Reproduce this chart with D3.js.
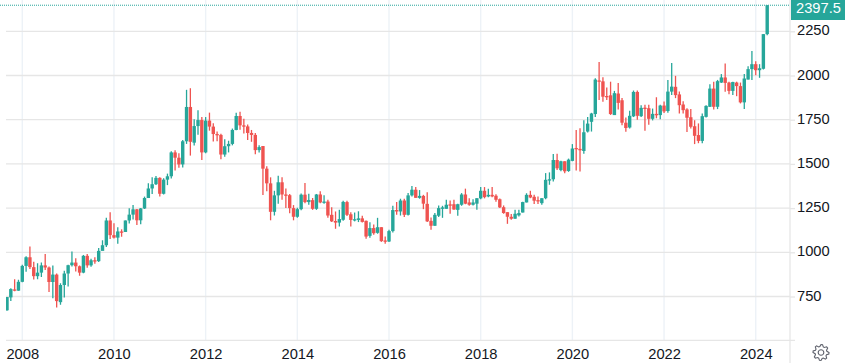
<!DOCTYPE html>
<html>
<head>
<meta charset="utf-8">
<style>
  html, body { margin: 0; padding: 0; background: #fff; overflow: hidden; }
  text { font-family: "Liberation Sans", Arial, sans-serif; font-size: 14.7px; fill: #131722; }
</style>
<script src="https://cdnjs.cloudflare.com/ajax/libs/d3/7.8.5/d3.min.js"></script>
</head>
<body>
<div id="chart"></div>
<script>
// monthly candles, Sep 2007 to Apr 2024
const firstYear = 2007, firstMonth = 8;

const opens = [
  672,745,790,783,
  833,923,972,916,865,885,926,914,832,874,718,815,
  880,927,942,921,885,980,926,955,950,1008,1040,1180,
  1097,1083,1118,1115,1180,1213,1243,1181,1248,1307,1361,1385,
  1421,1331,1411,1430,1565,1535,1497,1628,1822,1620,1714,1748,
  1565,1745,1711,1669,1664,1553,1600,1613,1692,1771,1718,1712,
  1675,1664,1578,1601,1473,1390,1229,1322,1396,1327,1323,1250,
  1201,1244,1326,1284,1295,1246,1327,1282,1287,1212,1177,1168,
  1184,1284,1215,1183,1183,1192,1178,1093,1137,1110,1142,1067,
  1061,1120,1239,1231,1293,1212,1322,1354,1308,1319,1274,1178,
  1150,1207,1246,1246,1271,1272,1240,1269,1327,1282,1269,1275,
  1305,1348,1316,1325,1320,1300,1255,1227,1201,1190,1209,1225,
  1282,1325,1314,1295,1278,1306,1409,1413,1522,1465,1515,1460,
  1517,1590,1585,1573,1683,1738,1782,1972,1967,1884,1888,1776,
  1898,1860,1733,1706,1769,1907,1770,1818,1815,1755,1783,1776,
  1830,1799,1909,1936,1893,1836,1808,1764,1713,1663,1630,1766,
  1823,1926,1823,1960,1989,1960,1913,1960,1940,1848,1977,2036,
  2064,2030,2038,2234
];
const highs = [
  745,797,848,845,
  930,977,1033,946,938,942,990,920,925,880,825,895,
  930,1004,967,925,985,991,963,972,1025,1068,1195,1227,
  1165,1142,1130,1180,1249,1268,1245,1250,1315,1391,1424,1431,
  1425,1419,1445,1572,1577,1560,1635,1919,1928,1752,1804,1765,
  1765,1790,1730,1683,1670,1640,1631,1700,1790,1795,1755,1723,
  1692,1675,1605,1601,1487,1424,1348,1433,1424,1361,1330,1267,
  1252,1332,1392,1331,1307,1330,1345,1323,1297,1255,1231,1240,
  1292,1292,1227,1225,1232,1207,1180,1170,1157,1195,1142,1090,
  1127,1263,1284,1303,1303,1335,1375,1369,1352,1325,1340,1197,
  1222,1265,1263,1297,1293,1297,1275,1335,1360,1306,1300,1306,
  1369,1369,1360,1370,1329,1305,1265,1227,1216,1240,1240,1286,
  1334,1348,1325,1315,1306,1448,1452,1556,1558,1518,1515,1530,
  1612,1692,1701,1747,1765,1789,1985,2076,1990,1932,1965,1913,
  1958,1873,1762,1800,1915,1915,1832,1835,1834,1813,1877,1835,
  1853,1974,2070,1998,1909,1855,1815,1810,1747,1729,1785,1832,
  1951,1964,1975,2008,2068,1965,1965,1965,1960,2008,2052,2138,
  2081,2064,2234,2397.5
];
const lows = [
  670,725,780,783,
  830,890,906,846,847,860,900,776,740,688,703,745,
  806,920,891,867,882,912,918,935,945,1025,1030,1075,
  1078,1048,1088,1115,1163,1185,1155,1158,1245,1315,1330,1380,
  1315,1327,1380,1418,1462,1478,1480,1613,1547,1604,1665,1522,
  1560,1688,1627,1628,1526,1540,1565,1605,1690,1693,1672,1635,
  1625,1555,1565,1324,1345,1181,1208,1275,1297,1251,1221,1181,
  1195,1238,1277,1269,1240,1240,1277,1275,1195,1171,1133,1146,
  1178,1205,1146,1175,1171,1169,1077,1082,1099,1105,1059,1048,
  1058,1112,1212,1208,1199,1208,1316,1308,1303,1244,1171,1127,
  1150,1200,1195,1246,1218,1240,1207,1263,1272,1263,1265,1240,
  1300,1305,1312,1312,1286,1250,1218,1161,1184,1190,1203,1225,
  1282,1306,1273,1273,1269,1300,1382,1400,1466,1458,1447,1455,
  1515,1462,1457,1557,1677,1683,1765,1861,1852,1861,1777,1777,
  1808,1719,1682,1700,1765,1750,1765,1688,1721,1746,1758,1753,
  1788,1790,1890,1872,1785,1785,1681,1700,1612,1617,1617,1763,
  1822,1808,1810,1958,1908,1894,1889,1883,1842,1810,1977,1974,
  2002,1987,2034,2228
];
const closes = [
  747,792,783,833,
  923,972,916,865,885,926,914,832,874,724,815,880,
  927,942,921,885,980,926,955,950,1008,1040,1180,1097,
  1083,1118,1115,1180,1213,1243,1181,1248,1307,1361,1385,1421,
  1331,1411,1430,1565,1535,1497,1628,1822,1625,1714,1748,1565,
  1745,1711,1669,1664,1553,1600,1613,1692,1771,1718,1712,1675,
  1664,1578,1595,1473,1390,1229,1322,1396,1327,1323,1250,1201,
  1244,1326,1284,1296,1246,1327,1282,1287,1208,1175,1168,1188,
  1285,1212,1183,1187,1192,1172,1089,1137,1108,1142,1063,1060,
  1120,1239,1231,1293,1212,1322,1354,1308,1319,1275,1175,1150,
  1212,1250,1254,1269,1268,1242,1272,1327,1275,1269,1282,1306,
  1348,1312,1325,1316,1297,1254,1222,1201,1190,1218,1222,1284,
  1325,1310,1292,1288,1306,1410,1413,1522,1475,1515,1458,1524,
  1587,1585,1577,1679,1728,1785,1977,1967,1880,1880,1782,1900,
  1845,1733,1703,1772,1907,1772,1817,1813,1755,1783,1775,1830,
  1797,1909,1937,1889,1832,1804,1761,1710,1659,1630,1770,1828,
  1926,1823,1968,1989,1958,1913,1963,1940,1848,1983,2036,2064,
  2030,2041,2234,2397.5
];

const yTicks = [750, 1000, 1250, 1500, 1750, 2000, 2250];
const yearTicks = [2008, 2010, 2012, 2014, 2016, 2018, 2020, 2022, 2024];
const lastPrice = 2397.5;

const width = 845, height = 363;
const left = 6, right = 790, bottom = 340.3;
const upColor = "#26a69a", downColor = "#ef5350";

// month index -> pixel, the candles are evenly spaced
const monthIndex = year => (year - firstYear) * 12 - firstMonth;
const x = d3.scaleLinear().domain([0, opens.length - 1]).range([7, 767.2]);
const y = d3.scaleLinear().domain([750, 2250]).range([296.5, 31.3]);

const svg = d3.select("#chart").append("svg")
    .attr("width", width)
    .attr("height", height)
    .style("display", "block");

svg.append("defs").append("clipPath").attr("id", "plot")
  .append("rect")
    .attr("x", left).attr("y", 0)
    .attr("width", right - left).attr("height", bottom);

// grid
svg.append("g").selectAll("line").data(yearTicks).join("line")
    .attr("x1", d => x(monthIndex(d)))
    .attr("x2", d => x(monthIndex(d)))
    .attr("y1", 0)
    .attr("y2", bottom)
    .attr("stroke", "#edf2f7")
    .attr("stroke-width", 1.4);

svg.append("g").selectAll("line").data(yTicks).join("line")
    .attr("x1", left)
    .attr("x2", right)
    .attr("y1", d => y(d))
    .attr("y2", d => y(d))
    .attr("stroke", "#e6e6e6")
    .attr("stroke-width", 1.3);

// axes
let yAxis = svg.append("g")
    .attr("transform", `translate(${right},0)`)
    .call(d3.axisRight(y).tickValues(yTicks).tickSize(5).tickPadding(2).tickFormat(d3.format("d")));
yAxis.select(".domain").remove();
yAxis.selectAll("line").attr("stroke", "#e6e6e6").attr("stroke-width", 1.3);
yAxis.selectAll("text").attr("dy", "0.24em");

let xAxis = svg.append("g")
    .attr("transform", `translate(0,${bottom})`)
    .call(d3.axisBottom(x).tickValues(yearTicks.map(monthIndex)).tickSize(0).tickPadding(8)
      .tickFormat(i => String(yearTicks[yearTicks.map(monthIndex).indexOf(i)])));
xAxis.select(".domain").remove();

svg.append("line")
    .attr("x1", left).attr("x2", right + 5)
    .attr("y1", bottom).attr("y2", bottom)
    .attr("stroke", "#e6e6e6").attr("stroke-width", 1.3);
svg.append("line")
    .attr("x1", right).attr("x2", right)
    .attr("y1", 0).attr("y2", height)
    .attr("stroke", "#e6e6e6").attr("stroke-width", 1.3);

// candles
let candles = svg.append("g").attr("clip-path", "url(#plot)")
  .selectAll("g").data(opens.map((d, i) => i)).join("g")
    .attr("fill", i => closes[i] >= opens[i] ? upColor : downColor)
    .attr("stroke", i => closes[i] >= opens[i] ? upColor : downColor);

candles.append("line")
    .attr("x1", i => x(i))
    .attr("x2", i => x(i))
    .attr("y1", i => y(highs[i]))
    .attr("y2", i => y(lows[i]))
    .attr("stroke-width", 1.3);

candles.append("rect")
    .attr("x", i => x(i) - 1.7)
    .attr("width", 3.4)
    .attr("y", i => y(Math.max(opens[i], closes[i])))
    .attr("height", i => Math.max(1.3, Math.abs(y(opens[i]) - y(closes[i]))))
    .attr("stroke", "none");

// last price marker
svg.append("line")
    .attr("x1", 0).attr("x2", right)
    .attr("y1", y(lastPrice)).attr("y2", y(lastPrice))
    .attr("stroke", upColor)
    .attr("stroke-width", 1)
    .attr("stroke-dasharray", "1 1");
svg.append("rect")
    .attr("x", right + 1).attr("y", 0)
    .attr("width", width - right - 1).attr("height", 20)
    .attr("fill", upColor);
svg.append("text")
    .attr("x", 796).attr("y", 8.6)
    .attr("dominant-baseline", "middle")
    .style("fill", "#fff")
    .text(lastPrice);

// settings gear
const gearRadius = [];
for (let i = 0; i < 32; i++) gearRadius.push([i * Math.PI / 16, (i % 4 < 2) ? 8 : 6]);
let gear = svg.append("g")
    .attr("transform", "translate(821,352.5)")
    .attr("fill", "none")
    .attr("stroke", "#5d606b")
    .attr("stroke-width", 1.1);
gear.append("path").attr("d", d3.lineRadial().curve(d3.curveLinearClosed)(gearRadius));
gear.append("circle").attr("r", 2.8);
</script>
</body>
</html>
